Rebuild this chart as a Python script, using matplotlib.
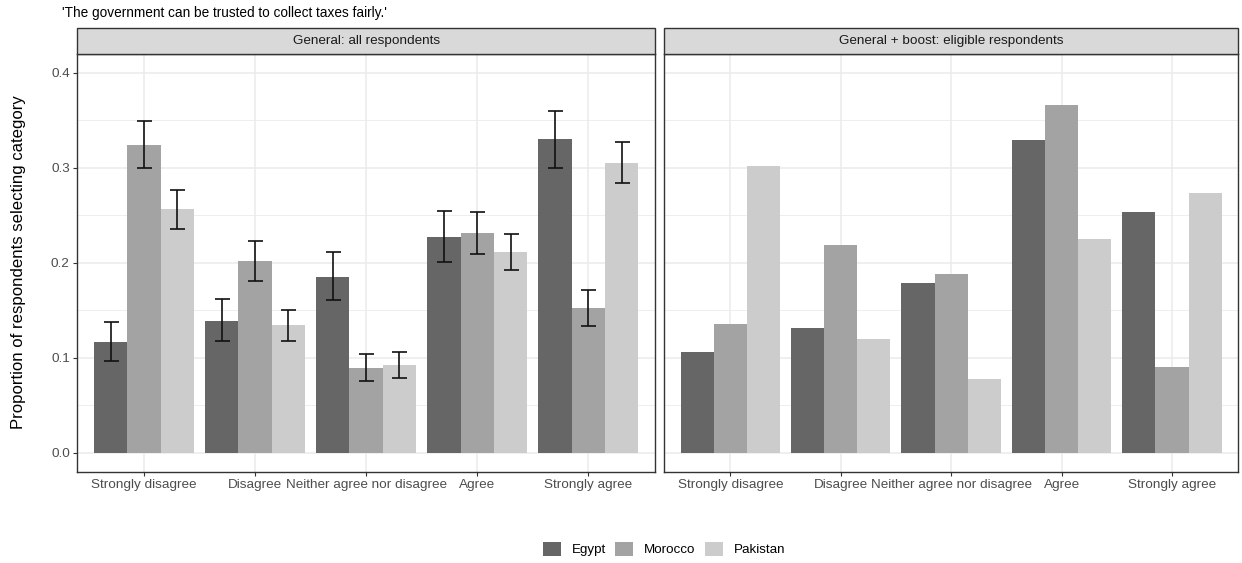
import numpy as np
import matplotlib
matplotlib.use("Agg")
import matplotlib.pyplot as plt
from matplotlib.patches import Rectangle, Patch
from matplotlib.ticker import MultipleLocator

plt.rcParams['font.family'] = ['Liberation Sans', 'DejaVu Sans']

title = "'The government can be trusted to collect taxes fairly.'"
ylabel = "Proportion of respondents selecting category"
categories = ["Strongly disagree", "Disagree", "Neither agree nor disagree", "Agree", "Strongly agree"]
countries = ["Egypt", "Morocco", "Pakistan"]
panel_titles = ["General: all respondents", "General + boost: eligible respondents"]

# Panel 1: general sample with confidence intervals
gen_egypt = [0.116, 0.139, 0.185, 0.227, 0.330]
gen_egypt_lo = [0.096, 0.117, 0.161, 0.201, 0.300]
gen_egypt_hi = [0.137, 0.162, 0.211, 0.254, 0.360]
gen_morocco = [0.324, 0.202, 0.089, 0.231, 0.152]
gen_morocco_lo = [0.300, 0.181, 0.075, 0.209, 0.133]
gen_morocco_hi = [0.349, 0.223, 0.104, 0.253, 0.171]
gen_pakistan = [0.256, 0.134, 0.092, 0.211, 0.305]
gen_pakistan_lo = [0.235, 0.118, 0.079, 0.192, 0.284]
gen_pakistan_hi = [0.276, 0.150, 0.106, 0.230, 0.327]

# Panel 2: general + boost sample
boost_egypt = [0.106, 0.131, 0.179, 0.329, 0.253]
boost_morocco = [0.135, 0.219, 0.188, 0.366, 0.090]
boost_pakistan = [0.302, 0.120, 0.078, 0.225, 0.273]

colors = ["#666666", "#A3A3A3", "#CCCCCC"]

W, H = 1242, 563
fig = plt.figure(figsize=(W / 100, H / 100), dpi=100)

top_px, bot_px = 53.5, 471.7
ax_bottom = 1 - bot_px / H
ax_height = (bot_px - top_px) / H
ax1 = fig.add_axes([77.3 / W, ax_bottom, (655 - 77.3) / W, ax_height])
ax2 = fig.add_axes([664 / W, ax_bottom, (1238.3 - 664) / W, ax_height])

panels = [
    (ax1, [gen_egypt, gen_morocco, gen_pakistan],
     [(gen_egypt_lo, gen_egypt_hi), (gen_morocco_lo, gen_morocco_hi), (gen_pakistan_lo, gen_pakistan_hi)]),
    (ax2, [boost_egypt, boost_morocco, boost_pakistan], None),
]

x = np.arange(1, len(categories) + 1)
bw = 0.3
strip_h = 25.2 / (bot_px - top_px)

for pi, (ax, series, errs) in enumerate(panels):
    ax.set_facecolor("white")
    ax.set_xlim(0.4, 5.6)
    ax.set_ylim(-0.02, 0.42)
    ax.yaxis.set_major_locator(MultipleLocator(0.1))
    ax.yaxis.set_minor_locator(MultipleLocator(0.05))
    ax.grid(which="major", color="#EBEBEB", linewidth=1.1, zorder=0)
    ax.grid(which="minor", axis="y", color="#EBEBEB", linewidth=0.6, zorder=0)
    ax.set_axisbelow(True)
    for j, vals in enumerate(series):
        xp = x + (j - 1) * bw
        ax.bar(xp, vals, width=bw, color=colors[j], edgecolor="none", zorder=2,
               label=countries[j] if pi == 0 else None)
        if errs is not None:
            lo, hi = np.array(errs[j][0]), np.array(errs[j][1])
            v = np.array(vals)
            ax.errorbar(xp, v, yerr=[v - lo, hi - v], fmt="none", ecolor="#111111",
                        elinewidth=1.2, capsize=5.4, capthick=1.2, zorder=3)
    ax.set_xticks(x)
    ax.set_xticklabels(categories, fontsize=9.7, color="#4D4D4D")
    ax.tick_params(axis="x", length=2.9, width=0.8, color="#333333", pad=2.5)
    for s in ax.spines.values():
        s.set_color("#333333")
        s.set_linewidth(1.0)
        s.set_zorder(4)
    if pi == 0:
        ax.tick_params(axis="y", which="major", length=2.9, width=0.8, color="#333333",
                       labelsize=9.7, labelcolor="#4D4D4D", pad=2.5)
        ax.tick_params(axis="y", which="minor", length=0)
        ax.yaxis.set_major_formatter(matplotlib.ticker.FormatStrFormatter("%.1f"))
    else:
        ax.tick_params(axis="y", which="both", length=0, labelleft=False)
    # strip
    ax.add_patch(Rectangle((0, 1), 1, strip_h, transform=ax.transAxes, facecolor="#D9D9D9",
                           edgecolor="#333333", linewidth=1.0, clip_on=False, zorder=5))
    ax.text(0.5, 1 + strip_h / 2, panel_titles[pi], transform=ax.transAxes, ha="center",
            va="center", fontsize=9.7, color="#1A1A1A", zorder=6)

fig.text(19 / W, 1 - ((top_px + bot_px) / 2) / H, ylabel, rotation=90, ha="center", va="center",
         fontsize=12.1, color="black")
fig.text(62 / W, 1 - 12.5 / H, title, ha="left", va="center", fontsize=9.8, color="black")

handles = [Patch(facecolor=c, edgecolor="none") for c in colors]
fig.legend(handles, countries, loc="center", bbox_to_anchor=(664 / W, 1 - 549 / H), ncol=3,
           frameon=False, fontsize=9.6, handlelength=1.35, handleheight=1.35,
           handletextpad=0.8, columnspacing=0.7, borderpad=0)

fig.savefig("out.png", dpi=100)
